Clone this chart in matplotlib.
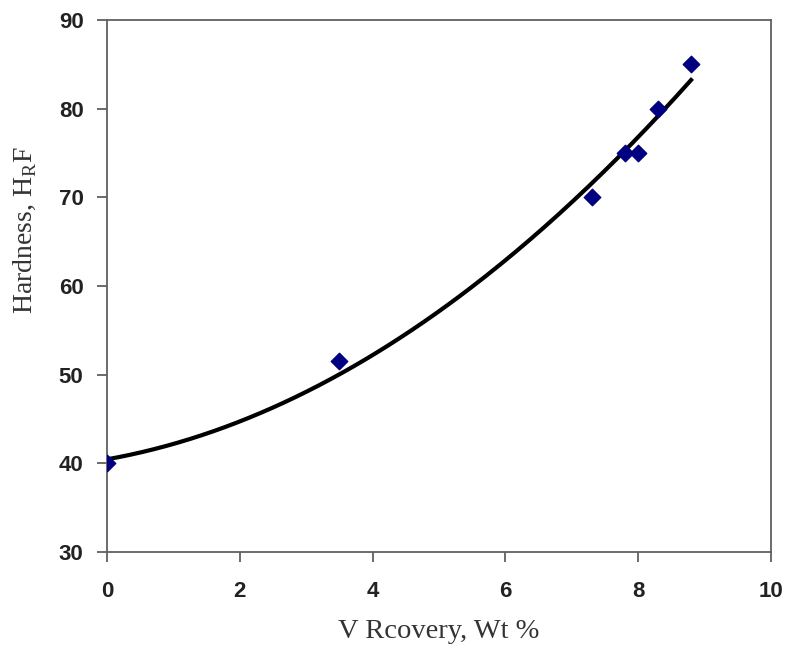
import numpy as np
import matplotlib.pyplot as plt

v_recovery = [0.0, 3.5, 7.3, 7.8, 8.0, 8.3, 8.8]
hardness = [40, 51.5, 70, 75, 75, 80, 85]

# quadratic trendline, like the spreadsheet one
coef = np.polyfit(v_recovery, hardness, 2)
x_fit = np.linspace(0, 8.8, 200)
y_fit = np.polyval(coef, x_fit)

fig = plt.figure(figsize=(7.88, 6.48), dpi=100)
ax = fig.add_axes([0.136, 0.148, 0.842, 0.821])

ax.plot(x_fit, y_fit, color='black', lw=3, zorder=2)
ax.scatter(v_recovery, hardness, marker='D', s=70, color='#000080', zorder=3)

ax.set_xlim(0, 10)
ax.set_ylim(30, 90)
ax.set_xticks([0, 2, 4, 6, 8, 10])
ax.set_yticks([30, 40, 50, 60, 70, 80, 90])

for s in ax.spines.values():
    s.set_color('#606060')
    s.set_linewidth(1.3)
ax.tick_params(axis='both', direction='out', length=7, width=1.3,
               color='#606060', labelsize=16)
ax.tick_params(axis='x', pad=14)
ax.tick_params(axis='y', pad=10)
for lbl in ax.get_xticklabels() + ax.get_yticklabels():
    lbl.set_fontfamily('Liberation Sans')
    lbl.set_fontweight('bold')
    lbl.set_color('#222222')

ax.set_xlabel('V Rcovery, Wt %', family='Liberation Serif', fontsize=20.5,
              color='#333333', labelpad=12)
ax.set_ylabel('Hardness, H$_\\mathregular{R}$F', family='Liberation Serif',
              fontsize=20, color='#333333')
ax.yaxis.set_label_coords(-0.103, 0.605)

fig.savefig('out.png', dpi=100)
